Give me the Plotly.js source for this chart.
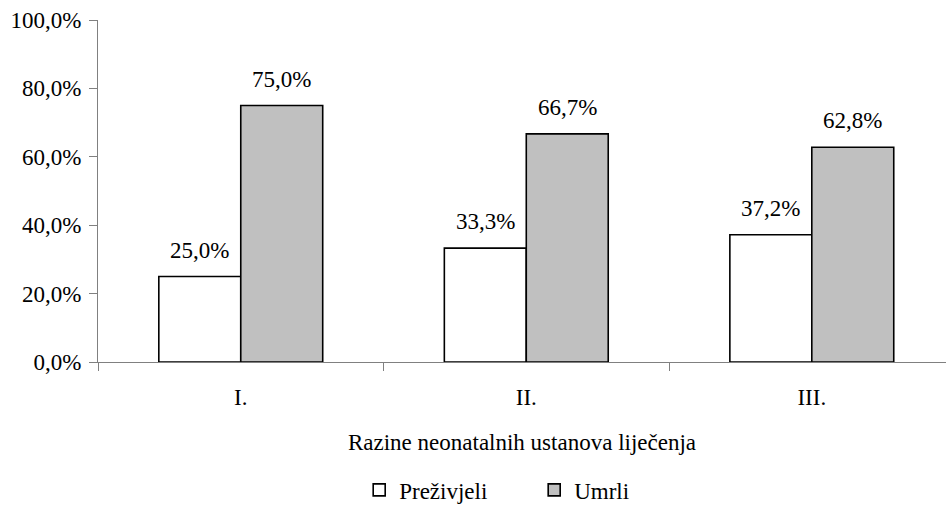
<!DOCTYPE html>
<html>
<head>
<meta charset="utf-8">
<script src="https://cdn.plot.ly/plotly-3.0.1.min.js"></script>
<style>html,body{margin:0;padding:0;background:#fff;}#chart{width:946px;height:519px;}</style>
</head>
<body>
<div id="chart"></div>
<script>
const categories = ["I.", "II.", "III."];
const prezivjeli = [25.0, 33.3, 37.2];
const umrli = [75.0, 66.7, 62.8];
const seriesNames = ["Preživjeli", "Umrli"];
const xTitle = "Razine neonatalnih ustanova liječenja";

const FONT = "'Liberation Serif'";
const FS = 23;

const traces = [
  {type: "bar", name: seriesNames[0], x: categories, y: prezivjeli,
   marker: {color: "#ffffff", line: {color: "#000000", width: 1.6}}, hoverinfo: "none"},
  {type: "bar", name: seriesNames[1], x: categories, y: umrli,
   marker: {color: "#c0c0c0", line: {color: "#000000", width: 1.6}}, hoverinfo: "none"}
];

const fmt = v => v.toFixed(1).replace(".", ",") + "%";
const annotations = [];
categories.forEach((c, i) => {
  annotations.push({x: c, y: prezivjeli[i], xref: "x", yref: "y", text: fmt(prezivjeli[i]),
    showarrow: false, xshift: -41, yshift: 12, yanchor: "bottom", font: {family: FONT, size: FS, color: "#000"}});
  annotations.push({x: c, y: umrli[i], xref: "x", yref: "y", text: fmt(umrli[i]),
    showarrow: false, xshift: 41, yshift: 12, yanchor: "bottom", font: {family: FONT, size: FS, color: "#000"}});
});

const layout = {
  width: 946, height: 519,
  margin: {l: 98, r: 0, t: 20, b: 157, pad: 0},
  paper_bgcolor: "#fff", plot_bgcolor: "#fff",
  font: {family: FONT, size: FS, color: "#000"},
  separators: ",.",
  barmode: "group", bargap: 0.426, bargroupgap: 0,
  showlegend: true,
  legend: {orientation: "h", x: 0.308, xanchor: "left", y: -0.374, yanchor: "middle",
    font: {family: FONT, size: FS, color: "#000"}, entrywidth: 130, itemwidth: 30},
  xaxis: {type: "category", range: [-0.5, 2.47], tickson: "boundaries",
    ticks: "outside", ticklen: 8, tickcolor: "#808080", tickwidth: 1,
    showline: true, linecolor: "#808080", linewidth: 1, showgrid: false, zeroline: false,
    ticklabelstandoff: 14, automargin: false,
    tickfont: {family: FONT, size: FS, color: "#000"},
    title: {text: xTitle, standoff: 25, font: {family: FONT, size: FS, color: "#000"}}},
  yaxis: {range: [0, 100], dtick: 20, tick0: 0, tickformat: ".1f", ticksuffix: "%",
    ticks: "outside", ticklen: 8, tickcolor: "#808080", tickwidth: 1,
    showline: true, linecolor: "#808080", linewidth: 1, showgrid: false, zeroline: false,
    ticklabelstandoff: 3,
    tickfont: {family: FONT, size: FS, color: "#000"},
    automargin: false},
  annotations: annotations
};

Plotly.newPlot("chart", traces, layout, {displayModeBar: false, staticPlot: true});
</script>
</body>
</html>
